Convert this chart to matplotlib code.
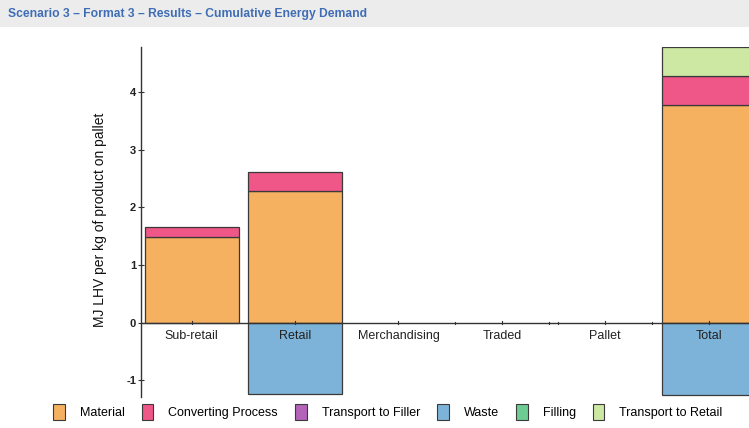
import matplotlib
matplotlib.use("Agg")
import matplotlib.pyplot as plt
from matplotlib.patches import Patch, Rectangle
import numpy as np

plt.rcParams['font.family'] = ['Liberation Sans', 'DejaVu Sans']

title = "Scenario 3 \u2013 Format 3 \u2013 Results \u2013 Cumulative Energy Demand"
ylabel = "MJ LHV per kg of product on pallet"

categories = ["Sub-retail", "Retail", "Merchandising", "Traded", "Pallet", "Total"]
series_names = ["Material", "Converting Process", "Transport to Filler",
                "Waste", "Filling", "Transport to Retail"]
material = [1.48, 2.28, 0, 0, 0, 3.77]
converting = [0.18, 0.34, 0, 0, 0, 0.52]
transport_filler = [0, 0, 0, 0, 0, 0]
waste = [0, -1.24, 0, 0, 0, -1.25]
filling = [0, 0, 0, 0, 0, 0]
transport_retail = [0, 0, 0, 0, 0, 0.50]
yticks = [-1, 0, 1, 2, 3, 4]

colors = ["#F5B060", "#EE5787", "#B363B8", "#7DB3D8", "#6DCB94", "#CDE8A2"]
edge = "#3a3a3a"

fig = plt.figure(figsize=(7.49, 4.28), dpi=100)

# header band
fig.patches.append(Rectangle((0, 1 - 27 / 428), 1, 27 / 428, transform=fig.transFigure,
                             facecolor="#ECECEC", edgecolor="none", zorder=0))
fig.text(8 / 749, 1 - 14 / 428, title, color="#3F6DB5", fontsize=8.7, fontweight="bold",
         va="center", ha="left")

ax = fig.add_axes([141 / 749, 1 - 397 / 428, 1 - 141 / 749, (397 - 46.7) / 428])
x = np.arange(len(categories))
w = 0.91

pos_series = [material, converting, transport_filler, filling, transport_retail]
pos_colors = [colors[0], colors[1], colors[2], colors[4], colors[5]]
bottom = np.zeros(len(categories))
for vals, c in zip(pos_series, pos_colors):
    vals = np.array(vals, dtype=float)
    mask = vals > 0
    ax.bar(x[mask], vals[mask], w, bottom=bottom[mask], color=c, edgecolor=edge,
           linewidth=0.9, zorder=2)
    bottom += vals
wv = np.array(waste, dtype=float)
m = wv < 0
ax.bar(x[m], wv[m], w, color=colors[3], edgecolor=edge, linewidth=0.9, zorder=2)

ax.set_xlim(-0.49, 5.39)
ax.set_ylim(-1.29, 4.79)

for s in ["top", "right", "bottom"]:
    ax.spines[s].set_visible(False)
ax.spines["left"].set_color("#333333")
ax.spines["left"].set_linewidth(1.0)
ax.axhline(0, color="#333333", linewidth=1.0, zorder=3)

ax.set_yticks(yticks)
ax.set_yticklabels([str(v) for v in yticks], fontsize=8, fontweight="bold", color="#222222")
ax.tick_params(axis="y", direction="inout", length=5, width=0.8, pad=1, color="#333333")

ax.set_xticks([])
for i, lab in enumerate(categories):
    ax.plot([i, i], [-0.03, 0.03], color="#333333", linewidth=0.8, zorder=4)
    ax.text(i, -0.12, lab, ha="center", va="top", fontsize=9, color="#222222", zorder=5)
for xe in [3 - w / 2, 3 + w / 2, 4 - w / 2, 4 + w / 2]:
    ax.plot([xe, xe], [-0.02, 0.02], color="#333333", linewidth=0.8, zorder=4)

fig.text(100 / 749, 1 - 220 / 428, ylabel, rotation=90, ha="center", va="center",
         fontsize=10, color="#111111")

handles = [Patch(facecolor=c, edgecolor=edge, linewidth=0.8) for c in colors]
fig.legend(handles, series_names, loc="center", bbox_to_anchor=(0.518, 1 - 412 / 428),
           ncol=6, frameon=False, fontsize=9, handlelength=0.9, handleheight=1.7,
           handletextpad=1.2, columnspacing=1.4)

fig.savefig("out.png", dpi=100)
